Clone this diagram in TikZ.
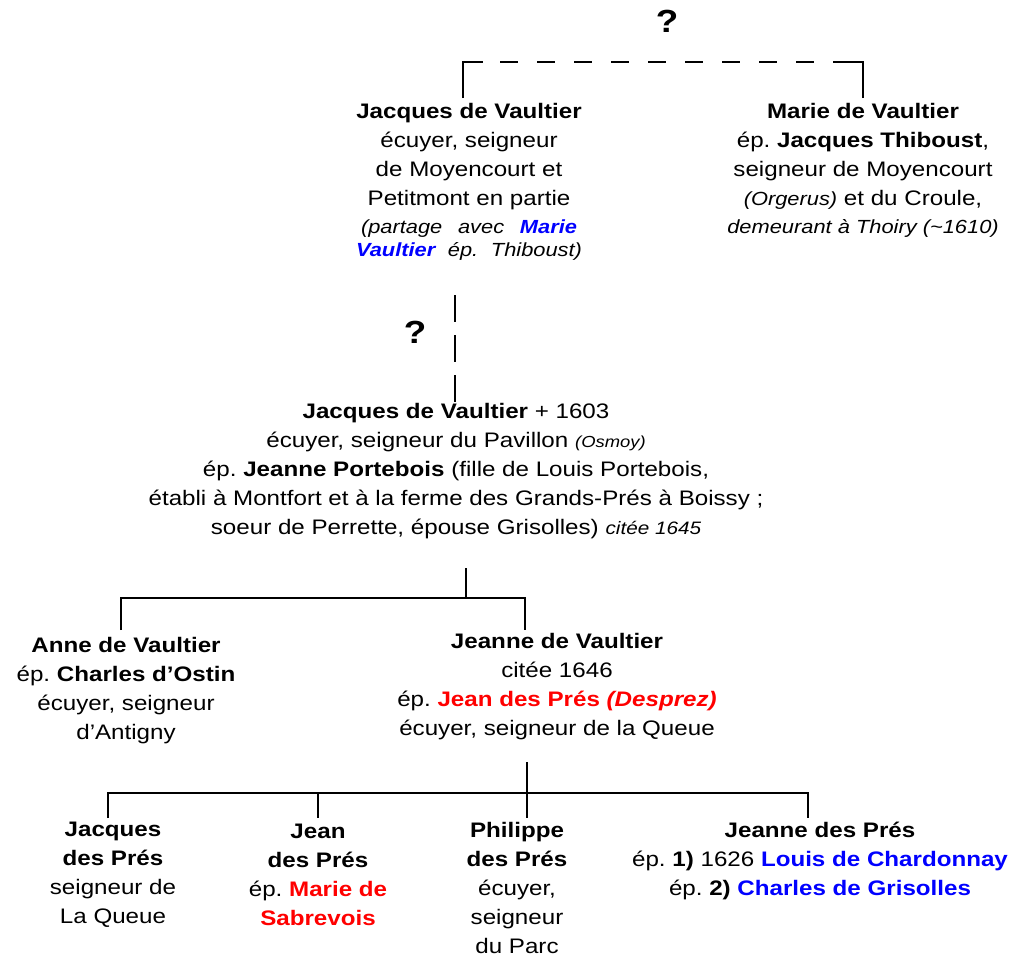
\documentclass[tikz,border=0pt]{standalone}
\usepackage{fontspec}
\setmainfont{Liberation Sans}[FakeStretch=1.15]
\usetikzlibrary{calc}
\definecolor{myred}{RGB}{255,0,0}
\definecolor{myblue}{RGB}{0,0,255}
\frenchspacing
\begin{document}
\begin{tikzpicture}[x=1pt,y=-1pt,
  person/.style={anchor=north,inner sep=0pt,align=center,font=\fontsize{21}{29}\selectfont},
  tree/.style={line width=2.6pt},
  dashtree/.style={line width=2.6pt,dash pattern=on 18pt off 19pt},
  vdash/.style={line width=2.6pt,dash pattern=on 27pt off 13pt},
  qmark/.style={inner sep=0pt,font=\fontsize{32}{40}\selectfont\bfseries}]
\useasboundingbox (0,0) rectangle (1030,958);
\newcommand{\sm}[1]{{\fontsize{19}{20}\selectfont\itshape #1}}
\newcommand{\smc}[1]{{\fontsize{18}{20}\selectfont\itshape #1}}
\newcommand{\smm}[1]{{\fontsize{16}{20}\selectfont\itshape #1}}

\node[qmark] (q1) at (667,21) {?};
\node[qmark] (q2) at (415,332) {?};

\node[person] (A) at (469,103) {\textbf{Jacques de Vaultier}\\
écuyer, seigneur\\
de Moyencourt et\\
Petitmont en partie\\[-1pt]
\makebox[216pt][s]{\sm{(partage avec \textcolor{myblue}{\textbf{Marie}}}}\\[-6pt]
\makebox[226pt][s]{\sm{\textcolor{myblue}{\textbf{Vaultier}} ép. Thiboust)}}};

\node[person] (B) at (863,103) {\textbf{Marie de Vaultier}\\
ép. \textbf{Jacques Thiboust},\\
seigneur de Moyencourt\\
\sm{(Orgerus)} et du Croule,\\[-1pt]
\sm{demeurant à Thoiry (\textasciitilde1610)}};

\node[person] (C) at (456,403) {\textbf{Jacques de Vaultier} + 1603\\
écuyer, seigneur du Pavillon \smm{(Osmoy)}\\
ép. \textbf{Jeanne Portebois} (fille de Louis Portebois,\\
établi à Montfort et à la ferme des Grands-Prés à Boissy ;\\
soeur de Perrette, épouse Grisolles) \smc{citée 1645}};

\node[person] (D) at (126,637) {\textbf{Anne de Vaultier}\\
ép. \textbf{Charles d’Ostin}\\
écuyer, seigneur\\
d’Antigny};

\node[person] (E) at (557,633) {\textbf{Jeanne de Vaultier}\\
citée 1646\\
ép. \textcolor{myred}{\textbf{Jean des Prés \textit{(Desprez)}}}\\
écuyer, seigneur de la Queue};

\node[person] (F) at (113,822) {\textbf{Jacques}\\
\textbf{des Prés}\\
seigneur de\\
La Queue};

\node[person] (G) at (318,824) {\textbf{Jean}\\
\textbf{des Prés}\\
ép. \textcolor{myred}{\textbf{Marie de}}\\
\textcolor{myred}{\textbf{Sabrevois}}};

\node[person] (H) at (517,822) {\textbf{Philippe}\\
\textbf{des Prés}\\
écuyer,\\
seigneur\\
du Parc};

\node[person] (I) at (820,822) {\textbf{Jeanne des Prés}\\
ép. \textbf{1)} 1626 \textcolor{myblue}{\textbf{Louis de Chardonnay}}\\
ép. \textbf{2)} \textcolor{myblue}{\textbf{Charles de Grisolles}}};

% top bracket
\coordinate (tA) at (463,98);
\coordinate (tB) at (863,98);
\coordinate (hA) at (463,62);
\coordinate (hB) at (863,62);
\draw[tree] (tA) -- (hA) -- ++(20,0);
\draw[tree] (tB) -- (hB) -- ++(-25,0);
\draw[dashtree,dash phase=-17pt] ($(hA)+(20,0)$) -- ($(hB)+(-25,0)$);

% A to C
\coordinate (vA) at (455,295);
\coordinate (vC) at (455,402);
\draw[vdash] (vA) -- (vC);

% C to children
\coordinate (cC) at (466,568);
\coordinate (bC) at (466,598);
\draw[tree] (cC) -- (bC);
\coordinate (bD) at (121,598);
\coordinate (bE) at (525,598);
\draw[tree] (121,630) -- (bD) -- (bE) -- (525,630);

% E to children
\coordinate (cE) at (527,762);
\coordinate (bE2) at (527,793);
\draw[tree] (cE) -- (bE2) -- (527,818);
\draw[tree] (108,818) -- (108,793) -- (808,793) -- (808,818);
\draw[tree] (318,793) -- (318,818);
\end{tikzpicture}
\end{document}
